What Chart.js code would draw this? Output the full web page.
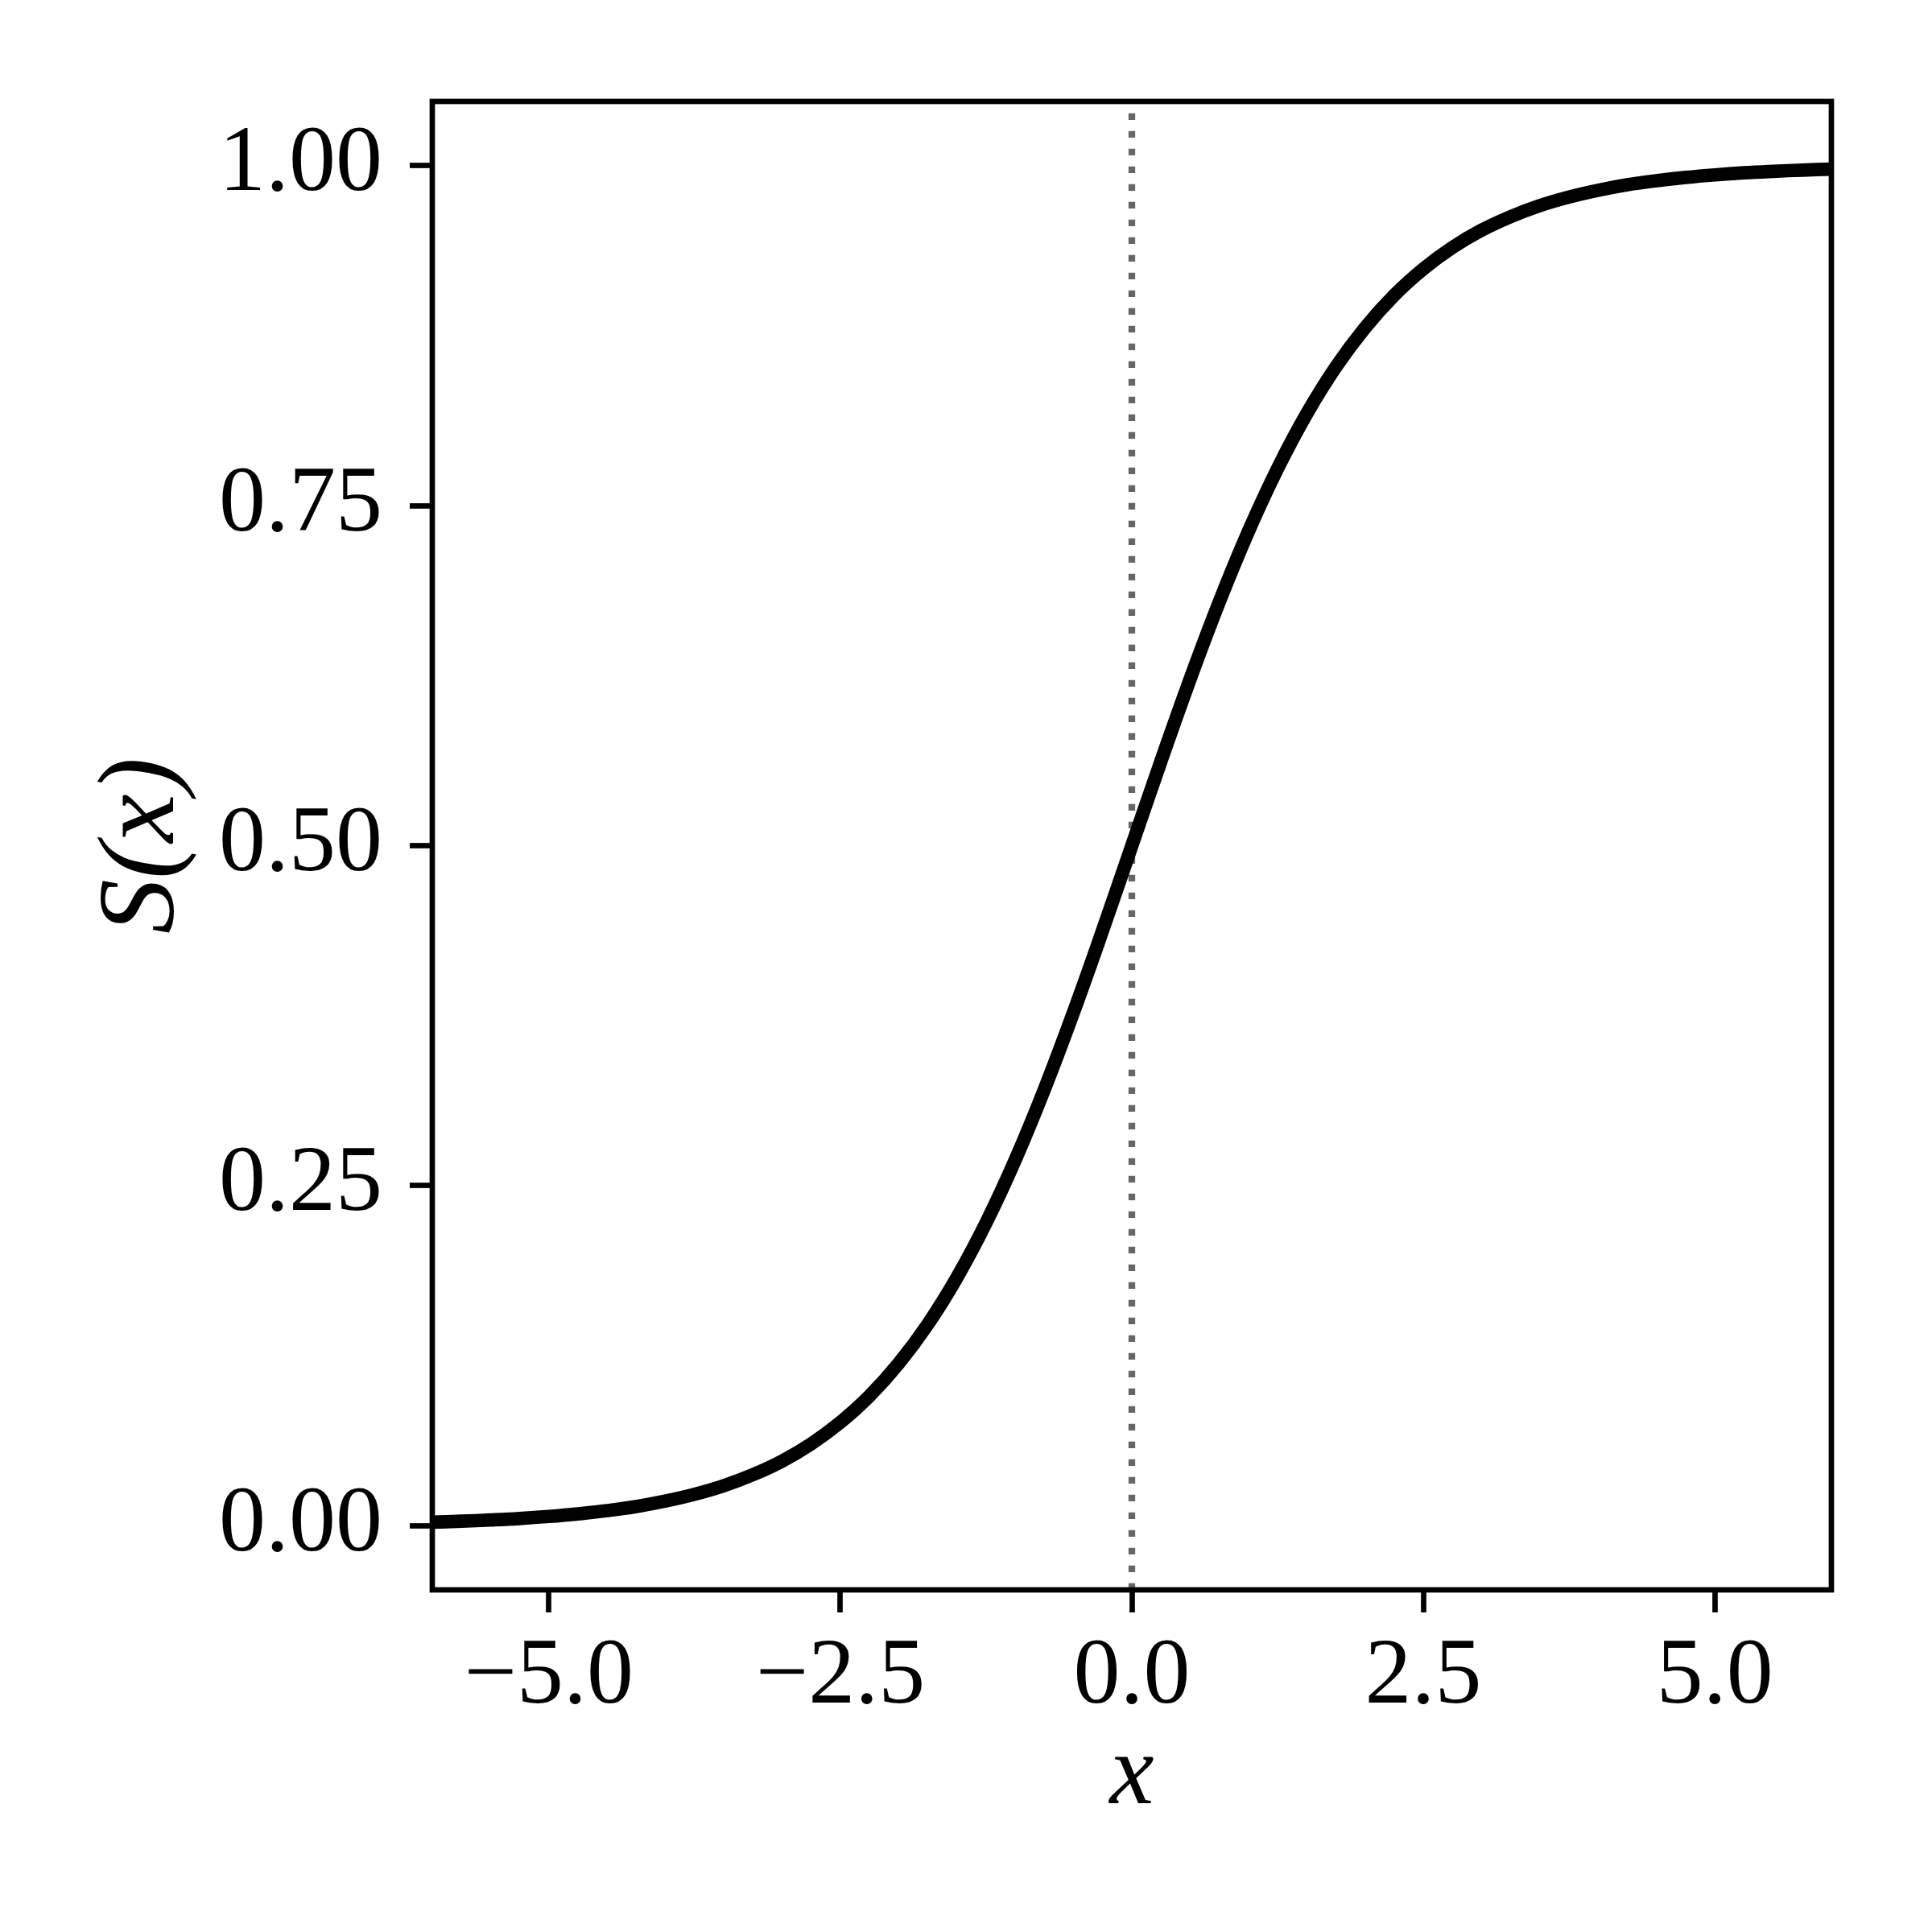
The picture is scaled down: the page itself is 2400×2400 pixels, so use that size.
<!DOCTYPE html>
<html>
<head>
<meta charset="utf-8">
<script src="https://cdn.jsdelivr.net/npm/chart.js@4.4.1/dist/chart.umd.min.js"></script>
<style>
  html, body { margin: 0; padding: 0; background: #fff; }
  #wrap { width: 2400px; height: 2400px; }
</style>
</head>
<body>
<div id="wrap"><canvas id="sigmoid" width="2400" height="2400"></canvas></div>
<script>
// values
const xValues = [-6, -5.75, -5.5, -5.25, -5, -4.75, -4.5, -4.25, -4, -3.75, -3.5, -3.25, -3,
  -2.75, -2.5, -2.25, -2, -1.75, -1.5, -1.25, -1, -0.75, -0.5, -0.25, 0,
  0.25, 0.5, 0.75, 1, 1.25, 1.5, 1.75, 2, 2.25, 2.5, 2.75, 3,
  3.25, 3.5, 3.75, 4, 4.25, 4.5, 4.75, 5, 5.25, 5.5, 5.75, 6];
const sValues = [0.0025, 0.0032, 0.0041, 0.0052, 0.0067, 0.0086, 0.0110, 0.0140, 0.0180, 0.0230, 0.0293, 0.0374, 0.0474,
  0.0601, 0.0759, 0.0953, 0.1192, 0.1480, 0.1824, 0.2227, 0.2689, 0.3208, 0.3775, 0.4378, 0.5,
  0.5622, 0.6225, 0.6792, 0.7311, 0.7773, 0.8176, 0.8520, 0.8808, 0.9047, 0.9241, 0.9399, 0.9526,
  0.9626, 0.9707, 0.9770, 0.9820, 0.9860, 0.9890, 0.9914, 0.9933, 0.9948, 0.9959, 0.9968, 0.9975];
const xTicks = [-5, -2.5, 0, 2.5, 5];
const yTicks = [0, 0.25, 0.5, 0.75, 1];
const xRange = [-6, 6];
const yRange = [-0.0473, 1.0473];
const markerX = 0;

const serif = "'Liberation Serif', 'DejaVu Serif', serif";

const framePlugin = {
  id: 'frame',
  afterDraw(chart) {
    const { ctx, chartArea: a } = chart;
    ctx.save();
    ctx.strokeStyle = '#000';
    ctx.lineWidth = 6.7;
    ctx.strokeRect(a.left, a.top, a.right - a.left, a.bottom - a.top);
    ctx.restore();
  }
};

const ctx = document.getElementById('sigmoid').getContext('2d');
new Chart(ctx, {
  type: 'line',
  data: {
    datasets: [{
      data: xValues.map((x, i) => ({ x: x, y: sValues[i] })),
      borderColor: '#000',
      borderWidth: 16.7,
      pointRadius: 0,
      tension: 0.4,
      borderCapStyle: 'butt',
      clip: 0
    }, {
      data: [{ x: markerX, y: yRange[0] }, { x: markerX, y: yRange[1] }],
      borderColor: 'rgba(0,0,0,0.6)',
      borderWidth: 8.3,
      borderDash: [8.3, 13.7],
      borderCapStyle: 'butt',
      pointRadius: 0,
      clip: 0
    }]
  },
  options: {
    responsive: false,
    animation: false,
    devicePixelRatio: 1,
    layout: { padding: { top: 126, right: 125, left: 0, bottom: 0 } },
    plugins: {
      legend: { display: false },
      tooltip: { enabled: false }
    },
    scales: {
      x: {
        type: 'linear',
        min: xRange[0],
        max: xRange[1],
        afterBuildTicks: axis => { axis.ticks = xTicks.map(v => ({ value: v })); },
        afterFit: axis => { axis.height = 425; },
        border: { display: false },
        grid: { drawOnChartArea: false, drawTicks: true, tickLength: 28, tickWidth: 6.7, tickColor: '#000' },
        ticks: {
          color: '#000',
          padding: 12,
          maxRotation: 0,
          font: { family: serif, size: 116 },
          callback: v => (v < 0 ? '\u2212' : '') + Math.abs(v).toFixed(1)
        },
        title: {
          display: true,
          text: 'x',
          color: '#000',
          padding: { top: 0, bottom: 118 },
          font: { family: serif, size: 124, style: 'italic' }
        }
      },
      y: {
        type: 'linear',
        min: yRange[0],
        max: yRange[1],
        afterBuildTicks: axis => { axis.ticks = yTicks.map(v => ({ value: v })); },
        afterFit: axis => { axis.width = 537; },
        border: { display: false },
        grid: { drawOnChartArea: false, drawTicks: true, tickLength: 28, tickWidth: 6.7, tickColor: '#000' },
        ticks: {
          color: '#000',
          padding: 34,
          font: { family: serif, size: 116 },
          callback: v => v.toFixed(2)
        },
        title: {
          display: true,
          text: 'S(x)',
          color: '#000',
          padding: { top: 98, bottom: 0 },
          font: { family: serif, size: 136, style: 'italic' }
        }
      }
    }
  },
  plugins: [framePlugin]
});
</script>
</body>
</html>
